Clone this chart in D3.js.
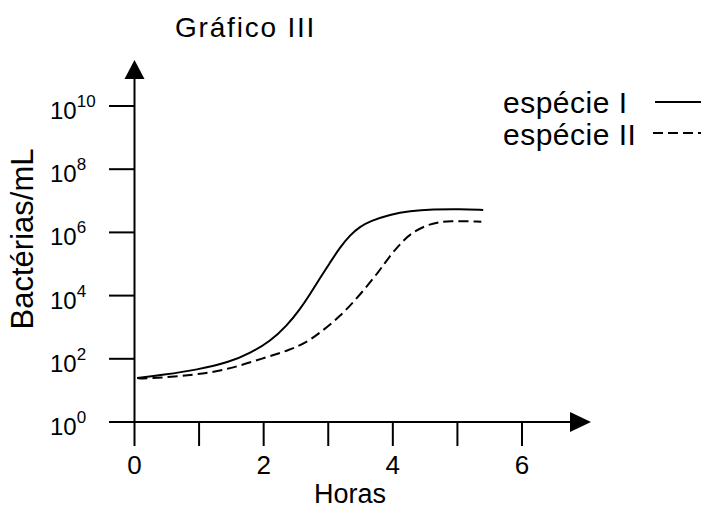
<!DOCTYPE html>
<html><head><meta charset="utf-8">
<script src="https://cdn.jsdelivr.net/npm/d3@7"></script>
<style>body{margin:0;background:#fff}svg{display:block}text{font-family:"Liberation Sans",Arial,sans-serif;fill:#000}</style>
</head><body>
<script>
const title = "Gráfico III";
const xLabel = "Horas";
const yLabel = "Bactérias/mL";
const xTicks = [0, 1, 2, 3, 4, 5, 6];
const xTickLabels = [0, 2, 4, 6];
const yExponents = [0, 2, 4, 6, 8, 10];
const seriesNames = ["espécie I", "espécie II"];
const hours1 = [0.04,0.44,0.97,1.48,1.79,2.10,2.36,2.56,2.72,2.87,3.03,3.18,3.34,3.49,3.65,3.96,4.26,4.62,5.04,5.40];
const log1 = [1.39,1.49,1.65,1.90,2.18,2.55,3.05,3.56,4.05,4.55,5.05,5.52,5.92,6.18,6.36,6.57,6.68,6.73,6.74,6.71];
const hours2 = [0.05,0.13,0.97,1.48,1.99,2.41,2.67,2.87,3.18,3.49,3.80,3.95,4.11,4.26,4.57,4.88,5.37];
const log2 = [1.39,1.36,1.49,1.68,2.02,2.28,2.53,2.82,3.33,4.02,4.80,5.25,5.62,5.95,6.29,6.37,6.34];

const W = 701, H = 509;
const svg = d3.select("body").append("svg").attr("width", W).attr("height", H);
const x = d3.scaleLinear().domain([0, 6]).range([134.5, 522]);
const y = d3.scaleLog().domain([1, 1e10]).range([422, 106]);

// axes lines
const ax = svg.append("g").attr("stroke", "#000").attr("stroke-width", 2);
ax.append("line").attr("x1", x(0)).attr("x2", x(0)).attr("y1", 446).attr("y2", 78);
ax.append("line").attr("x1", 109).attr("x2", 572).attr("y1", y(1)).attr("y2", y(1));
svg.append("path").attr("d", `M${x(0)},60 L${x(0)-10},79 L${x(0)+10},79 Z`).attr("fill", "#000");
svg.append("path").attr("d", `M591,${y(1)} L570,${y(1)-10} L570,${y(1)+10} Z`).attr("fill", "#000");

// x ticks
xTicks.filter(d => d > 0).forEach(d => {
  ax.append("line").attr("x1", x(d)).attr("x2", x(d)).attr("y1", y(1)).attr("y2", 446);
});
xTickLabels.forEach(d => {
  svg.append("text").attr("x", x(d)).attr("y", 474).attr("text-anchor", "middle")
    .attr("font-size", 26).text(d);
});
// y ticks
yExponents.forEach(e => {
  const yy = y(Math.pow(10, e));
  ax.append("line").attr("x1", 109).attr("x2", x(0)).attr("y1", yy).attr("y2", yy);
  const t = svg.append("text").attr("x", 50).attr("y", yy + 13).attr("font-size", 24);
  t.append("tspan").text("10");
  t.append("tspan").attr("dy", -12).attr("font-size", 17).text(e);
});

// labels
svg.append("text").attr("x", 175).attr("y", 37).attr("font-size", 28).attr("letter-spacing", 1.8).text(title);
svg.append("text").attr("x", 350).attr("y", 503).attr("text-anchor", "middle").attr("font-size", 27).text(xLabel);
svg.append("text").attr("transform", "translate(33,239) rotate(-90)").attr("text-anchor", "middle")
  .attr("font-size", 31).text(yLabel);

// curves
const line = d3.line().x(d => x(d[0])).y(d => y(Math.pow(10, d[1]))).curve(d3.curveBasis);
const d1 = hours1.map((h, i) => [h, log1[i]]);
const d2 = hours2.map((h, i) => [h, log2[i]]);
svg.append("path").attr("d", line(d1)).attr("fill", "none").attr("stroke", "#000").attr("stroke-width", 2);
svg.append("path").attr("d", line(d2)).attr("fill", "none").attr("stroke", "#000").attr("stroke-width", 2)
  .attr("stroke-dasharray", "10,5");

// legend
svg.append("text").attr("x", 503).attr("y", 113).attr("font-size", 30).attr("letter-spacing", 0.5).text(seriesNames[0]);
svg.append("text").attr("x", 503).attr("y", 145).attr("font-size", 30).attr("letter-spacing", 0.5).text(seriesNames[1]);
svg.append("line").attr("x1", 655).attr("x2", 701).attr("y1", 102).attr("y2", 102).attr("stroke", "#000").attr("stroke-width", 2);
svg.append("line").attr("x1", 653).attr("x2", 701).attr("y1", 133).attr("y2", 133).attr("stroke", "#000").attr("stroke-width", 2).attr("stroke-dasharray", "10,5");
</script>
</body></html>
